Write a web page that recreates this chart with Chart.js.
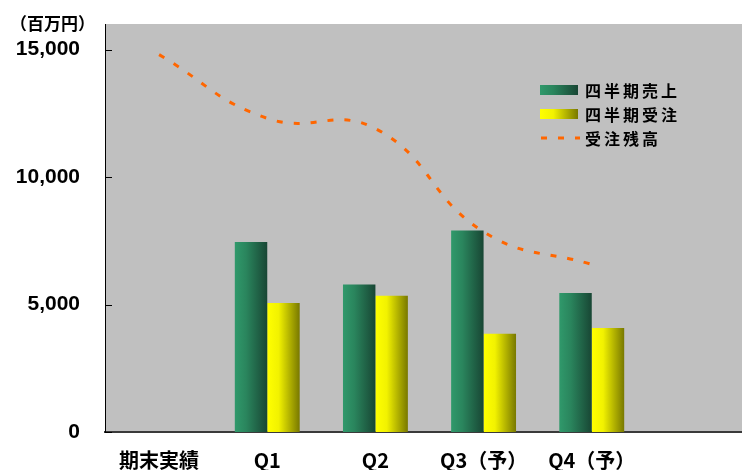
<!DOCTYPE html>
<html><head><meta charset="utf-8">
<script src="https://cdn.jsdelivr.net/npm/chart.js@4/dist/chart.umd.min.js"></script>
<style>
html,body{margin:0;padding:0;background:#fff;overflow:hidden;width:742px;height:470px;}
#wrap{width:754px;height:470px;}
</style></head><body>
<div id="wrap"><canvas id="c" width="754" height="470"></canvas></div>
<script>
// ---- data ----
const categories = ['期末実績', 'Q1', 'Q2', 'Q3（予）', 'Q4（予）', ''];
const quarterlySales = [null, 7450, 5780, 7900, 5450, null];
const quarterlyOrders = [null, 5060, 5340, 3850, 4080, null];
const orderBacklog = [14800, 12300, 11900, 7850, 6570, null];
const yTickValues = [0, 5000, 10000, 15000];
const yUnitLabel = '（百万円）';
const seriesNames = ['四半期売上', '四半期受注', '受注残高'];

// ---- styles ----
const greenStops = [[0, '#30996b'], [0.35, '#2a855d'], [1, '#184634']];
const yellowStops = [[0, '#ffff00'], [0.35, '#f2f200'], [1, '#787800']];
const lineColor = '#ff6600';
const lineDash = [6, 11];
const CAT_PCT = 0.6;

function barGradient(c, stops, k) {
  const chart = c.chart;
  const xs = chart.scales.x;
  if (!chart.chartArea || !xs || c.type !== 'data') return stops[0][1];
  const catW = xs.width / categories.length;
  const groupW = catW * CAT_PCT;
  const barW = groupW / 2;
  const center = xs.getPixelForValue(c.dataIndex);
  const left = center - groupW / 2 + k * barW;
  const g = chart.ctx.createLinearGradient(left, 0, left + barW, 0);
  stops.forEach(([o, col]) => g.addColorStop(o, col));
  return g;
}

const decor = {
  id: 'decor',
  beforeDraw(chart) {
    const { ctx, chartArea: a } = chart;
    ctx.save();
    ctx.fillStyle = '#c0c0c0';
    ctx.fillRect(a.left, a.top, a.right - a.left, a.bottom - a.top);
    ctx.restore();
  },
  afterDraw(chart) {
    const { ctx, chartArea: a, scales: { y } } = chart;
    ctx.save();
    // inward tick marks
    ctx.strokeStyle = '#000';
    ctx.lineWidth = 1;
    y.ticks.forEach(t => {
      const py = Math.round(y.getPixelForValue(t.value)) + 0.5;
      ctx.beginPath(); ctx.moveTo(a.left, py); ctx.lineTo(a.left + 7, py); ctx.stroke();
    });
    // unit label
    ctx.fillStyle = '#000';
    ctx.textBaseline = 'middle';
    ctx.textAlign = 'left';
    ctx.font = 'bold 17px "Noto Sans CJK JP"';
    ctx.fillText(yUnitLabel, 10, 24);
    // legend
    const lx = 540, tx = 585, rows = [90, 114, 138];
    ctx.font = 'bold 16px "Noto Sans CJK JP"';
    ctx.letterSpacing = '3px';
    [greenStops, yellowStops].forEach((st, i) => {
      const g = ctx.createLinearGradient(lx, 0, lx + 38, 0);
      st.forEach(([o, col]) => g.addColorStop(o, col));
      ctx.fillStyle = g;
      ctx.fillRect(lx, rows[i] - 5, 38, 10);
    });
    ctx.strokeStyle = lineColor;
    ctx.lineWidth = 3;
    ctx.setLineDash(lineDash);
    ctx.beginPath(); ctx.moveTo(lx + 1, rows[2]); ctx.lineTo(lx + 40, rows[2]); ctx.stroke();
    ctx.setLineDash([]);
    ctx.fillStyle = '#000';
    seriesNames.forEach((n, i) => ctx.fillText(n, tx, rows[i] + 1));
    ctx.restore();
  }
};

new Chart(document.getElementById('c'), {
  type: 'bar',
  data: {
    labels: categories,
    datasets: [
      {
        type: 'line', label: seriesNames[2], data: orderBacklog, order: 0,
        borderColor: lineColor, borderWidth: 3, borderDash: lineDash,
        tension: 0.45, pointRadius: 0, fill: false, spanGaps: false
      },
      {
        label: seriesNames[0], data: quarterlySales, order: 1,
        backgroundColor: c => barGradient(c, greenStops, 0),
        categoryPercentage: CAT_PCT, barPercentage: 1, borderWidth: 0
      },
      {
        label: seriesNames[1], data: quarterlyOrders, order: 2,
        backgroundColor: c => barGradient(c, yellowStops, 1),
        categoryPercentage: CAT_PCT, barPercentage: 1, borderWidth: 0
      }
    ]
  },
  options: {
    responsive: false,
    animation: false,
    devicePixelRatio: 1,
    events: [],
    layout: { padding: { top: 24, left: 0, right: 0, bottom: 0 } },
    plugins: { legend: { display: false }, tooltip: { enabled: false }, title: { display: false } },
    scales: {
      x: {
        offset: true,
        grid: { display: false, drawTicks: false },
        border: { display: true, color: '#3a3a3a', width: 2 },
        ticks: {
          color: '#000', padding: 16, maxRotation: 0, autoSkip: false,
          font: { family: '"Noto Sans CJK JP", sans-serif', size: 20, weight: 'bold' }
        },
        afterFit: s => { s.height = 38; s.paddingLeft = 0; s.paddingRight = 0; }
      },
      y: {
        min: 0, max: 16000,
        grid: { display: false, drawTicks: false },
        border: { display: true, color: '#000', width: 1 },
        ticks: {
          stepSize: 5000, color: '#000', padding: 25,
          font: { family: '"Liberation Sans", Arial, sans-serif', size: 21, weight: 'bold' },
          callback: v => v.toLocaleString('en-US')
        },
        afterBuildTicks: s => { s.ticks = yTickValues.map(v => ({ value: v })); },
        afterFit: s => { s.width = 105; s.paddingTop = 0; s.paddingBottom = 0; }
      }
    }
  },
  plugins: [decor]
});
</script>
</body></html>
